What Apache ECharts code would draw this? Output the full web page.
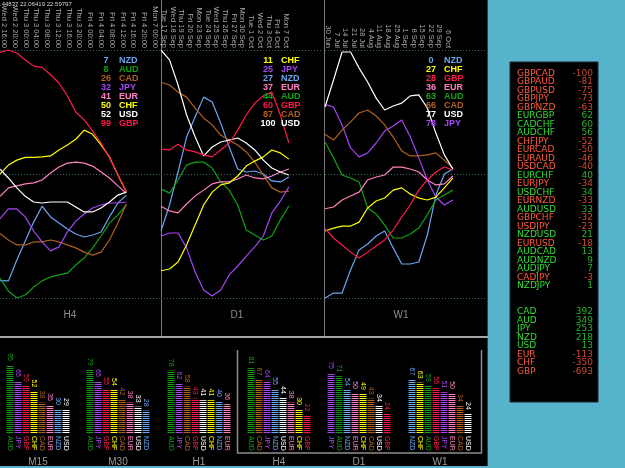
<!DOCTYPE html>
<html>
<head>
<meta charset="utf-8">
<script src="https://cdn.jsdelivr.net/npm/echarts@6/dist/echarts.min.js"></script>
<style>
  html, body { margin: 0; padding: 0; background: #000; }
  #chart { width: 625px; height: 468px; }
</style>
</head>
<body>
<div id="chart"></div>
<script>
const CURS = ['NZD', 'AUD', 'CAD', 'JPY', 'EUR', 'CHF', 'USD', 'GBP']
const COLORS = { NZD: '#6aa6f2', AUD: '#12a012', CAD: '#b0601e', JPY: '#a545f5',
  EUR: '#ff80c0', CHF: '#ffff00', USD: '#ffffff', GBP: '#ff1a4a' }
const RED = '#ff5a3c', GREEN = '#33dd33', BLUE = '#55b3cb'
const FONT = 'Liberation Sans'

// time labels on top of each panel
const h4Dates = ['Wed 2 16:00', 'Wed 2 20:00', 'Thu 3 00:00', 'Thu 3 04:00', 'Thu 3 08:00', 'Thu 3 12:00',
  'Thu 3 16:00', 'Thu 3 20:00', 'Fri 4 00:00', 'Fri 4 04:00', 'Fri 4 08:00', 'Fri 4 12:00', 'Fri 4 16:00',
  'Fri 4 20:00', 'Mon 7 00:00']
const d1Dates = ['Tue 17 Sep', 'Wed 18 Sep', 'Thu 19 Sep', 'Fri 20 Sep', 'Mon 23 Sep', 'Tue 24 Sep', 'Wed 25 Sep',
  'Thu 26 Sep', 'Fri 27 Sep', 'Mon 30 Sep', 'Tue 1 Oct', 'Wed 2 Oct', 'Thu 3 Oct', 'Fri 4 Oct', 'Mon 7 Oct']
const w1Dates = ['30 Jun', '7 Jul', '14 Jul', '21 Jul', '28 Jul', '4 Aug', '11 Aug', '18 Aug', '25 Aug',
  '1 Sep', '8 Sep', '15 Sep', '22 Sep', '29 Sep', '6 Oct']

// strength lines, H4
const h4NZD = [7, 6.9, 15.3, 23, 30.6, 37, 32.7, 30.2, 27.8, 25.8, 24.6, 25.4, 26.6, 32.7, 38.3, 41.5]
const h4AUD = [8, 2.8, 0, 1.2, 4.4, 6.9, 8.5, 9.3, 10, 13.3, 16.1, 20.2, 25, 30.2, 33.5, 37.5]
const h4CAD = [26, 23.4, 21.4, 21.4, 22.6, 22.6, 23.4, 22.6, 21.4, 20.2, 18.5, 17.3, 18.5, 23.4, 30.2, 37.9]
const h4JPY = [32, 35.9, 35.9, 32.7, 27, 22.6, 19, 20.6, 26.6, 31, 33.9, 36.3, 37.5, 38.3, 38.3, 38.7]
const h4EUR = [41, 44.4, 45.2, 46, 46.4, 47.6, 50.4, 52.8, 54.4, 54.8, 54.4, 53.2, 50.8, 48.4, 45.2, 42.3]
const h4CHF = [50, 53.6, 55.6, 56.7, 56.7, 56.9, 57.3, 59.7, 61.7, 64, 67.7, 66, 61.7, 56.9, 49.6, 42.7]
const h4USD = [52, 48.4, 44.4, 41, 38.7, 38.3, 38.7, 38.7, 38.7, 36.7, 34.7, 34.7, 36.3, 38.7, 41.5, 42.7]
const h4GBP = [99, 100, 98.8, 96, 93.5, 93, 90, 86.7, 81.5, 75, 71.8, 67.3, 62.5, 56.5, 49.8, 42.7]

// D1
const d1NZD = [27, 37.5, 50.8, 64.9, 73, 81, 79, 70.6, 60.9, 52, 50.8, 51.2, 50, 47.2, 46.8, 48.8]
const d1AUD = [44, 42.3, 47.6, 53.6, 54.8, 54.8, 52.4, 46.8, 43.5, 37.5, 27.4, 25.4, 23.4, 25, 31.5, 37.1]
const d1CAD = [87, 85.9, 83, 81, 76.6, 72.6, 69.8, 65.7, 63.7, 61.7, 58.9, 54.8, 49.6, 44.4, 42.7, 43.1]
const d1JPY = [25, 26.2, 26.2, 20.2, 10.5, 3.2, 0.8, 3.2, 9.3, 12.9, 16.9, 20.6, 25, 34.3, 39.1, 44.8]
const d1EUR = [37, 35.1, 34.3, 37.9, 41.1, 43.5, 46, 46.8, 46.8, 48, 49.6, 48.4, 48, 49.2, 50.8, 52]
const d1CHF = [11, 11.7, 14.5, 21.4, 29.4, 37.5, 42.7, 45.6, 46.4, 49.2, 53.2, 55.2, 56.9, 59.7, 58.5, 56]
const d1USD = [100, 96, 85.9, 73.8, 65, 57.3, 60.9, 62.9, 63.7, 64.5, 62.5, 59.7, 55.6, 52.4, 50.8, 49.6]
const d1GBP = [60, 59.7, 62, 59.7, 58.9, 57.7, 56.9, 59.7, 62.5, 67.7, 73.8, 78.6, 81.5, 83, 73.8, 62.5]

// W1
const w1NZD = [0, 2, 2, 11.3, 19.4, 21.8, 25, 27, 20.2, 13.7, 13.7, 14.5, 25.4, 41.5, 50, 52]
const w1AUD = [63, 56.5, 49.6, 48.4, 46.8, 36.3, 33.9, 29.4, 24.2, 24.2, 25.8, 28.2, 33.5, 39.5, 41.5, 43.5]
const w1CAD = [66, 63.7, 67.7, 71, 74.6, 75.8, 73.4, 69.8, 64.9, 59.3, 57.3, 57.3, 57.7, 58.5, 55.6, 52.4]
const w1JPY = [78, 77, 69.8, 60.5, 56.9, 58.5, 62.5, 67.3, 69.4, 71.8, 65, 56.5, 47.6, 40.7, 37.5, 39.5]
const w1EUR = [36, 36.7, 39.5, 41.1, 42.7, 47.6, 48.8, 49.6, 52.8, 52.8, 52, 50.8, 47.6, 45.6, 46, 49.2]
const w1CHF = [27, 28.2, 29, 29, 30.6, 36.3, 39.1, 40.3, 43.5, 44.4, 41.9, 40.3, 39.5, 40.7, 44.4, 48.4]
const w1USD = [77, 87.9, 99.2, 99.2, 92.7, 87.1, 80.6, 75.8, 77.4, 78.6, 81.5, 81.9, 76.6, 66.5, 57.7, 52]
const w1GBP = [28, 24.2, 21.4, 18.5, 16.1, 18.5, 21, 23.4, 27.4, 32.7, 37.5, 43.5, 47.6, 50.8, 52.8, 51.6]

// ranking lists inside the panels
const h4RankCur = ['NZD', 'AUD', 'CAD', 'JPY', 'EUR', 'CHF', 'USD', 'GBP']
const h4RankVal = [7, 8, 26, 32, 41, 50, 52, 99]
const d1RankCur = ['CHF', 'JPY', 'NZD', 'EUR', 'AUD', 'GBP', 'CAD', 'USD']
const d1RankVal = [11, 25, 27, 37, 44, 60, 87, 100]
const w1RankCur = ['NZD', 'CHF', 'GBP', 'EUR', 'AUD', 'CAD', 'USD', 'JPY']
const w1RankVal = [0, 27, 28, 36, 63, 66, 77, 78]

// bar groups
const m15Cur = ['AUD', 'JPY', 'GBP', 'CHF', 'CAD', 'EUR', 'NZD', 'USD'], m15Val = [95, 65, 59, 52, 38, 35, 30, 29]
const m30Cur = ['AUD', 'JPY', 'GBP', 'CHF', 'CAD', 'EUR', 'USD', 'NZD'], m30Val = [79, 65, 55, 54, 42, 38, 33, 28]
const h1Cur = ['AUD', 'JPY', 'CAD', 'GBP', 'USD', 'CHF', 'NZD', 'EUR'], h1Val = [78, 62, 58, 43, 41, 41, 40, 36]
const h4BarCur = ['AUD', 'CAD', 'JPY', 'NZD', 'USD', 'EUR', 'CHF', 'GBP'], h4BarVal = [81, 67, 64, 55, 44, 38, 30, 22]
const d1BarCur = ['JPY', 'AUD', 'NZD', 'EUR', 'CHF', 'CAD', 'USD', 'GBP'], d1BarVal = [75, 71, 54, 50, 49, 43, 34, 24]
const w1BarCur = ['NZD', 'CHF', 'AUD', 'GBP', 'JPY', 'EUR', 'CAD', 'USD'], w1BarVal = [67, 63, 59, 56, 51, 50, 34, 24]

// pair table
const pairNames = ['GBPCAD', 'GBPAUD', 'GBPUSD', 'GBPJPY', 'GBPNZD', 'EURGBP', 'CADCHF', 'AUDCHF', 'CHFJPY',
  'EURCAD', 'EURAUD', 'USDCAD', 'EURCHF', 'EURJPY', 'USDCHF', 'EURNZD', 'AUDUSD', 'GBPCHF', 'USDJPY',
  'NZDUSD', 'EURUSD', 'AUDCAD', 'AUDNZD', 'AUDJPY', 'CADJPY', 'NZDJPY']
const pairVals = [-100, -81, -75, -73, -63, 62, 60, 56, -52, -50, -46, -40, 40, -34, 34, -33, 33, -32, -23,
  21, -18, 13, 9, 7, -3, 1]
const totNames = ['CAD', 'AUD', 'JPY', 'NZD', 'USD', 'EUR', 'CHF', 'GBP']
const totVals = [392, 349, 253, 218, 13, -113, -350, -693]

function stripe(c) {
  const cv = document.createElement('canvas')
  cv.width = 1; cv.height = 2
  const g = cv.getContext('2d')
  g.fillStyle = c; g.fillRect(0, 0, 1, 1)
  g.fillStyle = 'rgba(0,0,0,0.5)'; g.fillRect(0, 1, 1, 1)
  return { image: cv, repeat: 'repeat' }
}

const panels = [
  { name: 'H4', dates: h4Dates, left: 0, width: 160, dLeft: 3, dWidth: 152, lgLeft: 92, shift: 20,
    lines: { NZD: h4NZD, AUD: h4AUD, CAD: h4CAD, JPY: h4JPY, EUR: h4EUR, CHF: h4CHF, USD: h4USD, GBP: h4GBP },
    rankCur: h4RankCur, rankVal: h4RankVal },
  { name: 'D1', dates: d1Dates, left: 161, width: 162, dLeft: 164, dWidth: 122, lgLeft: 254, shift: 10,
    lines: { NZD: d1NZD, AUD: d1AUD, CAD: d1CAD, JPY: d1JPY, EUR: d1EUR, CHF: d1CHF, USD: d1USD, GBP: d1GBP },
    rankCur: d1RankCur, rankVal: d1RankVal },
  { name: 'W1', dates: w1Dates, left: 325, width: 162, dLeft: 328, dWidth: 120, lgLeft: 417, shift: 10,
    lines: { NZD: w1NZD, AUD: w1AUD, CAD: w1CAD, JPY: w1JPY, EUR: w1EUR, CHF: w1CHF, USD: w1USD, GBP: w1GBP },
    rankCur: w1RankCur, rankVal: w1RankVal }
]
const groups = [
  { name: 'M15', cur: m15Cur, val: m15Val, left: 6 },
  { name: 'M30', cur: m30Cur, val: m30Val, left: 86 },
  { name: 'H1', cur: h1Cur, val: h1Val, left: 167 },
  { name: 'H4', cur: h4BarCur, val: h4BarVal, left: 247 },
  { name: 'D1', cur: d1BarCur, val: d1BarVal, left: 327 },
  { name: 'W1', cur: w1BarCur, val: w1BarVal, left: 408 }
]

const grid = [], xAxis = [], yAxis = [], series = [], legend = []
const hide = { axisLine: { show: false }, axisTick: { show: false }, splitLine: { show: false } }

panels.forEach(p => {
  const gi = grid.length
  grid.push({ left: p.left, top: 50, width: p.width, height: 248 })
  xAxis.push({ gridIndex: gi, type: 'value', min: 0, max: 19, ...hide, axisLabel: { show: false },
    name: p.name, nameLocation: 'middle', nameGap: 12,
    nameTextStyle: { color: '#8c8c8c', fontSize: 10, fontFamily: FONT, padding: [0, p.shift, 0, 0] } })
  yAxis.push({ gridIndex: gi, type: 'value', min: 0, max: 100, interval: 50,
    axisLine: { show: false }, axisTick: { show: false }, axisLabel: { show: false },
    splitLine: { lineStyle: { color: '#2f6670', type: [1, 2] } } })
  CURS.forEach(c => series.push({
    name: c, type: 'line', xAxisIndex: gi, yAxisIndex: gi, symbol: 'none', silent: true,
    data: p.lines[c].map((v, i) => [i, v]),
    lineStyle: { color: COLORS[c], width: 1.2 }, itemStyle: { color: COLORS[c] }
  }))
  const rich = {
    v: { width: 16, align: 'right', fontSize: 9, fontWeight: 'bold', fontFamily: FONT, lineHeight: 7.4 },
    n: { padding: [0, 0, 0, 5], fontSize: 9, fontWeight: 'bold', fontFamily: FONT, lineHeight: 7.4 }
  }
  legend.push({
    left: p.lgLeft, top: 56, orient: 'vertical', padding: 0, itemGap: 0, itemWidth: 0, itemHeight: 0,
    selectedMode: false,
    data: p.rankCur.map(c => ({ name: c, textStyle: { color: COLORS[c] } })),
    formatter: name => `{v|${p.rankVal[p.rankCur.indexOf(name)]}}{n|${name}}`,
    textStyle: { fontSize: 9, fontWeight: 'bold', fontFamily: FONT, lineHeight: 7.4, rich }
  })
  const gd = grid.length
  grid.push({ left: p.dLeft, top: 50, width: p.dWidth, height: 1 })
  xAxis.push({ gridIndex: gd, type: 'category', position: 'top', boundaryGap: false, data: p.dates, ...hide,
    axisLabel: { rotate: -90, interval: 0, margin: 2, color: '#a8a8a8', fontSize: 7.5, fontFamily: FONT } })
  yAxis.push({ gridIndex: gd, type: 'value', show: false })
})

groups.forEach(g => {
  const gi = grid.length
  grid.push({ left: g.left, top: 365, width: 64, height: 69 })
  xAxis.push({ gridIndex: gi, type: 'category', data: g.cur, ...hide,
    axisLabel: { interval: 0, rotate: -90, margin: 3, fontSize: 7, fontFamily: FONT, color: v => COLORS[v] },
    name: g.name, nameLocation: 'middle', nameGap: 24,
    nameTextStyle: { color: '#9a9a9a', fontSize: 10, fontFamily: FONT } })
  yAxis.push({ gridIndex: gi, type: 'value', min: 0, max: 85, show: false })
  series.push({
    type: 'bar', xAxisIndex: gi, yAxisIndex: gi, barWidth: 7, silent: true,
    data: g.val.map((v, k) => ({ value: v, itemStyle: { color: stripe(COLORS[g.cur[k]]) },
      label: { color: COLORS[g.cur[k]] } })),
    label: { show: true, position: 'top', rotate: -90, align: 'right', verticalAlign: 'middle',
      distance: 4, fontSize: 7, fontFamily: FONT }
  })
})

function table(names, vals, top) {
  const gi = grid.length
  grid.push({ left: 517, right: 32, top: top, height: names.length * 8.5 })
  xAxis.push({ gridIndex: gi, type: 'value', min: 0, max: 1, show: false })
  yAxis.push({ gridIndex: gi, type: 'category', inverse: true, data: names, ...hide,
    axisLabel: { inside: true, margin: 0, interval: 0, fontSize: 9, fontFamily: 'DejaVu Sans',
      color: (v, i) => vals[i] < 0 ? RED : GREEN } })
  series.push({
    type: 'scatter', xAxisIndex: gi, yAxisIndex: gi, symbolSize: 0, silent: true,
    data: vals.map((v, i) => ({ value: [1, i, v], label: { color: v < 0 ? RED : GREEN } })),
    label: { show: true, position: 'left', distance: 0, fontSize: 9, fontFamily: 'DejaVu Sans',
      formatter: p => p.value[2] }
  })
}
table(pairNames, pairVals, 69.25)
table(totNames, totVals, 307.75)

const chart = echarts.init(document.getElementById('chart'))
chart.setOption({
  backgroundColor: '#000',
  animation: false,
  title: { text: '.44837 22.06419 22.59797', left: 0, top: 1, padding: 0,
    textStyle: { color: '#d8d8d8', fontSize: 6, fontWeight: 'normal', fontFamily: FONT } },
  graphic: [
    { type: 'rect', shape: { x: 488, y: 0, width: 137, height: 468 }, style: { fill: BLUE } },
    { type: 'rect', shape: { x: 510, y: 62, width: 88, height: 340 }, style: { fill: '#000', stroke: '#1c2a30', lineWidth: 1 } },
    { type: 'line', shape: { x1: 161.5, y1: 0, x2: 161.5, y2: 336 }, style: { stroke: '#7a7a7a', lineWidth: 1 } },
    { type: 'line', shape: { x1: 324.5, y1: 0, x2: 324.5, y2: 336 }, style: { stroke: '#7a7a7a', lineWidth: 1 } },
    { type: 'line', shape: { x1: 487.5, y1: 0, x2: 487.5, y2: 466 }, style: { stroke: '#3a3a3a', lineWidth: 1 } },
    { type: 'rect', shape: { x: 0, y: 336, width: 488, height: 2 }, style: { fill: '#a6a6a6' } },
    { type: 'polyline', shape: { points: [[237.5, 350], [237.5, 453], [481.5, 453], [481.5, 350]] },
      style: { stroke: '#8c8c8c', lineWidth: 1.5, fill: null } },
    { type: 'rect', shape: { x: 0, y: 466, width: 488, height: 2 }, style: { fill: BLUE } }
  ],
  legend, grid, xAxis, yAxis, series
})
</script>
</body>
</html>
